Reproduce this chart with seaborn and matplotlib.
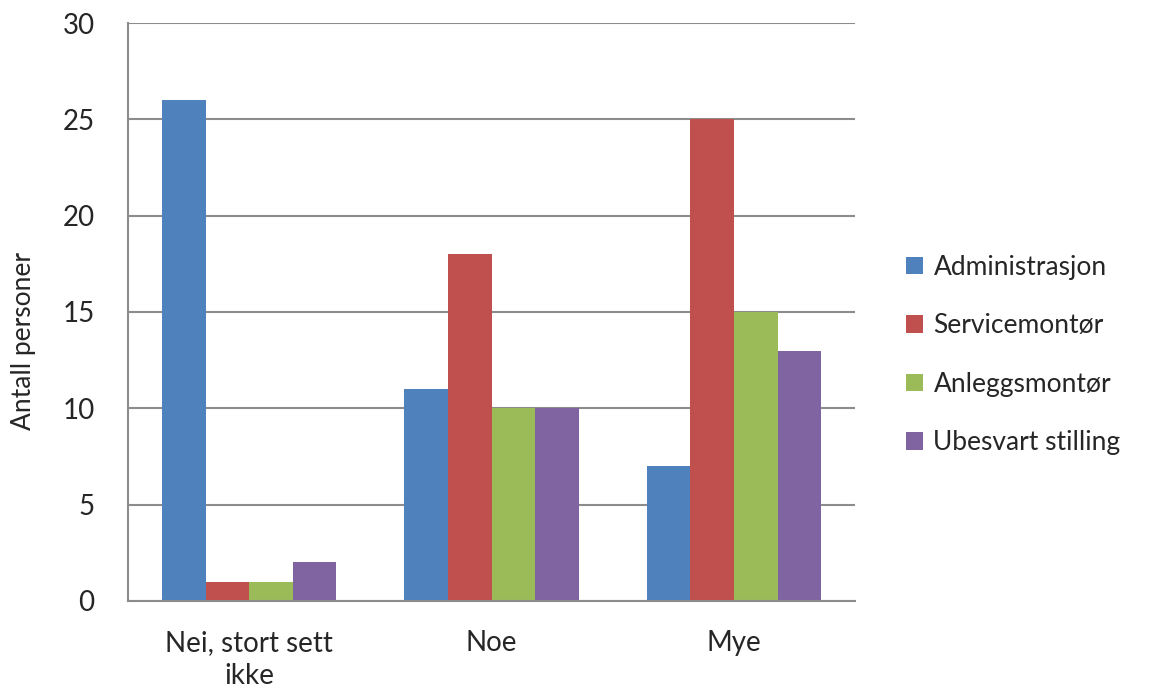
import numpy as np
import pandas as pd
import matplotlib
matplotlib.use('Agg')
import matplotlib.pyplot as plt
import seaborn as sns

# Data
categories = ['Nei, stort sett\nikke', 'Noe', 'Mye']
groups = ['Administrasjon', 'Servicemontør', 'Anleggsmontør', 'Ubesvart stilling']
administrasjon = [26, 11, 7]
servicemontor = [1, 18, 25]
anleggsmontor = [1, 10, 15]
ubesvart = [2, 10, 13]
colors = ['#4F81BD', '#C0504D', '#9BBB59', '#8064A2']

df = pd.DataFrame({
    'kategori': categories * 4,
    'gruppe': np.repeat(groups, 3),
    'antall': administrasjon + servicemontor + anleggsmontor + ubesvart,
})

sns.set_style('white')
plt.rcParams['font.family'] = ['Lato', 'DejaVu Sans']

fig = plt.figure(figsize=(11.53, 6.93), dpi=100)
ax = fig.add_axes([0.111, 0.1328, 0.6306, 0.834])

sns.barplot(data=df, x='kategori', y='antall', hue='gruppe', order=categories,
            hue_order=groups, palette=colors, width=0.72, saturation=1,
            edgecolor='none', ax=ax)

ax.set_ylim(0, 30)
ax.set_xlim(-0.5, 2.5)
ax.set_yticks(range(0, 31, 5))
ax.yaxis.grid(True, color='#8c8c8c', linewidth=1.5)
ax.set_axisbelow(True)

for side in ['top', 'right']:
    ax.spines[side].set_visible(False)
for side in ['left', 'bottom']:
    ax.spines[side].set_color('#8c8c8c')
    ax.spines[side].set_linewidth(1.5)

ax.tick_params(axis='y', length=10, width=1.5, color='#8c8c8c', labelsize=20, pad=14)
ax.tick_params(axis='x', which='major', length=0, labelsize=20, pad=21)
ax.set_xticks([-0.5, 0.5, 1.5, 2.5], minor=True)
ax.tick_params(axis='x', which='minor', length=9, width=1.5, color='#8c8c8c')
for lbl in ax.get_xticklabels():
    lbl.set_linespacing(1.35)

ax.set_xlabel('')
ax.set_ylabel('Antall personer', fontsize=19)
ax.yaxis.set_label_coords(-0.127, 0.45)

ax.legend(loc='center left', bbox_to_anchor=(1.037, 0.4256), frameon=False,
          fontsize=19, labelspacing=1.27, handlelength=0.65, handleheight=0.65,
          handletextpad=0.4)

fig.savefig('out.png', dpi=100)
